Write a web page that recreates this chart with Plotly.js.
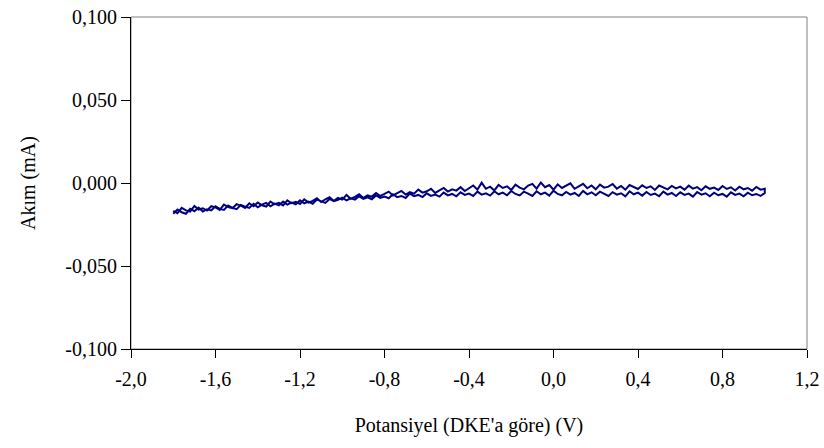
<!DOCTYPE html>
<html><head><meta charset="utf-8">
<script src="https://cdn.plot.ly/plotly-3.0.1.min.js"></script>
<style>html,body{margin:0;padding:0;background:#fff}#chart{width:824px;height:448px}</style>
</head><body><div id="chart"></div>
<script>
const potential = [-1.80,-1.78,-1.76,-1.74,-1.72,-1.70,-1.68,-1.66,-1.64,-1.62,-1.60,-1.58,-1.56,-1.54,-1.52,-1.50,-1.48,-1.46,-1.44,-1.42,-1.40,-1.38,-1.36,-1.34,-1.32,-1.30,-1.28,-1.26,-1.24,-1.22,-1.20,-1.18,-1.16,-1.14,-1.12,-1.10,-1.08,-1.06,-1.04,-1.02,-1.00,-0.98,-0.96,-0.94,-0.92,-0.90,-0.88,-0.86,-0.84,-0.82,-0.80,-0.78,-0.76,-0.74,-0.72,-0.70,-0.68,-0.66,-0.64,-0.62,-0.60,-0.58,-0.56,-0.54,-0.52,-0.50,-0.48,-0.46,-0.44,-0.42,-0.40,-0.38,-0.36,-0.34,-0.32,-0.30,-0.28,-0.26,-0.24,-0.22,-0.20,-0.18,-0.16,-0.14,-0.12,-0.10,-0.08,-0.06,-0.04,-0.02,0.00,0.02,0.04,0.06,0.08,0.10,0.12,0.14,0.16,0.18,0.20,0.22,0.24,0.26,0.28,0.30,0.32,0.34,0.36,0.38,0.40,0.42,0.44,0.46,0.48,0.50,0.52,0.54,0.56,0.58,0.60,0.62,0.64,0.66,0.68,0.70,0.72,0.74,0.76,0.78,0.80,0.82,0.84,0.86,0.88,0.90,0.92,0.94,0.96,0.98,1.00];

// anodic sweep (-1.8 -> 1.0), current in mA
const currentForward = [-0.0168,-0.0182,-0.0150,-0.0165,-0.0172,-0.0138,-0.0160,-0.0152,-0.0166,-0.0140,-0.0147,-0.0162,-0.0130,-0.0145,-0.0152,-0.0128,-0.0136,-0.0150,-0.0122,-0.0140,-0.0118,-0.0135,-0.0142,-0.0112,-0.0128,-0.0120,-0.0135,-0.0105,-0.0122,-0.0114,-0.0126,-0.0098,-0.0118,-0.0108,-0.0092,-0.0115,-0.0098,-0.0085,-0.0108,-0.0090,-0.0100,-0.0072,-0.0095,-0.0084,-0.0068,-0.0090,-0.0075,-0.0082,-0.0060,-0.0078,-0.0066,-0.0052,-0.0075,-0.0062,-0.0048,-0.0070,-0.0055,-0.0064,-0.0040,-0.0058,-0.0050,-0.0035,-0.0060,-0.0044,-0.0030,-0.0052,-0.0038,-0.0046,-0.0025,-0.0048,-0.0032,-0.0015,-0.0040,0.0002,-0.0035,-0.0022,-0.0045,-0.0012,-0.0030,-0.0020,-0.0042,-0.0010,-0.0028,-0.0038,-0.0015,-0.0005,-0.0034,0.0003,-0.0025,-0.0012,-0.0040,-0.0008,-0.0030,-0.0018,-0.0002,-0.0035,-0.0020,-0.0005,-0.0032,-0.0015,-0.0038,-0.0010,-0.0028,-0.0022,-0.0006,-0.0034,-0.0018,-0.0040,-0.0012,-0.0025,-0.0036,-0.0014,-0.0030,-0.0020,-0.0042,-0.0015,-0.0028,-0.0038,-0.0018,-0.0032,-0.0022,-0.0040,-0.0016,-0.0034,-0.0025,-0.0044,-0.0020,-0.0035,-0.0028,-0.0042,-0.0018,-0.0036,-0.0026,-0.0045,-0.0022,-0.0038,-0.0030,-0.0046,-0.0024,-0.0040,-0.0035];

// cathodic sweep, listed at the same potentials as above (ascending)
const currentReverse = [-0.0185,-0.0160,-0.0176,-0.0185,-0.0155,-0.0170,-0.0148,-0.0172,-0.0158,-0.0165,-0.0140,-0.0156,-0.0162,-0.0135,-0.0150,-0.0158,-0.0132,-0.0142,-0.0150,-0.0125,-0.0146,-0.0130,-0.0120,-0.0140,-0.0124,-0.0135,-0.0112,-0.0130,-0.0118,-0.0128,-0.0104,-0.0122,-0.0112,-0.0125,-0.0100,-0.0108,-0.0120,-0.0096,-0.0110,-0.0102,-0.0088,-0.0105,-0.0092,-0.0100,-0.0080,-0.0096,-0.0086,-0.0098,-0.0075,-0.0090,-0.0082,-0.0092,-0.0068,-0.0085,-0.0078,-0.0090,-0.0064,-0.0080,-0.0072,-0.0085,-0.0062,-0.0078,-0.0070,-0.0082,-0.0058,-0.0075,-0.0066,-0.0080,-0.0056,-0.0072,-0.0064,-0.0078,-0.0052,-0.0070,-0.0062,-0.0076,-0.0050,-0.0068,-0.0058,-0.0074,-0.0048,-0.0066,-0.0075,-0.0052,-0.0064,-0.0078,-0.0050,-0.0068,-0.0058,-0.0076,-0.0046,-0.0066,-0.0074,-0.0054,-0.0070,-0.0060,-0.0078,-0.0048,-0.0068,-0.0056,-0.0074,-0.0052,-0.0066,-0.0078,-0.0055,-0.0070,-0.0062,-0.0080,-0.0050,-0.0068,-0.0058,-0.0076,-0.0054,-0.0072,-0.0064,-0.0080,-0.0052,-0.0070,-0.0060,-0.0078,-0.0056,-0.0072,-0.0064,-0.0082,-0.0054,-0.0070,-0.0062,-0.0080,-0.0058,-0.0074,-0.0066,-0.0082,-0.0056,-0.0072,-0.0064,-0.0080,-0.0058,-0.0074,-0.0066,-0.0078,-0.0060];

const xTickVals = [-2.0,-1.6,-1.2,-0.8,-0.4,0.0,0.4,0.8,1.2];
const xTickText = ["-2,0","-1,6","-1,2","-0,8","-0,4","0,0","0,4","0,8","1,2"];
const yTickVals = [-0.100,-0.050,0.000,0.050,0.100];
const yTickText = ["-0,100","-0,050","0,000","0,050","0,100"];

const xs = potential.concat(potential.slice().reverse());
const ys = currentForward.concat(currentReverse.slice().reverse());

const font = {family: 'Liberation Serif, Times New Roman, serif', size: 20, color: '#000'};

Plotly.newPlot('chart', [{
  x: xs, y: ys, type: 'scatter', mode: 'lines',
  line: {color: '#000080', width: 2}, hoverinfo: 'skip'
}], {
  width: 824, height: 448,
  margin: {l: 131, r: 17, t: 17, b: 99, pad: 0},
  paper_bgcolor: '#fff', plot_bgcolor: '#fff',
  showlegend: false,
  font: font,
  xaxis: {
    range: [-2.0, 1.2], tickvals: xTickVals, ticktext: xTickText,
    showgrid: false, zeroline: false, showline: true, linecolor: '#000', linewidth: 1,
    ticks: 'outside', ticklen: 8, tickcolor: '#000', tickfont: font, ticklabelstandoff: 4,
    title: {text: "Potansiyel (DKE'a göre) (V)", font: font, standoff: 28}
  },
  yaxis: {
    range: [-0.100, 0.100], tickvals: yTickVals, ticktext: yTickText,
    showgrid: false, zeroline: false, showline: true, linecolor: '#000', linewidth: 1,
    ticks: 'outside', ticklen: 9, tickcolor: '#000', tickfont: font,
    title: {text: "Akım (mA)", font: font, standoff: 24}
  },
  shapes: [{type: 'rect', xref: 'paper', yref: 'paper', x0: 0, x1: 1, y0: 0, y1: 1,
    line: {color: '#808080', width: 1}, layer: 'below'}]
}, {staticPlot: true});
</script></body></html>
